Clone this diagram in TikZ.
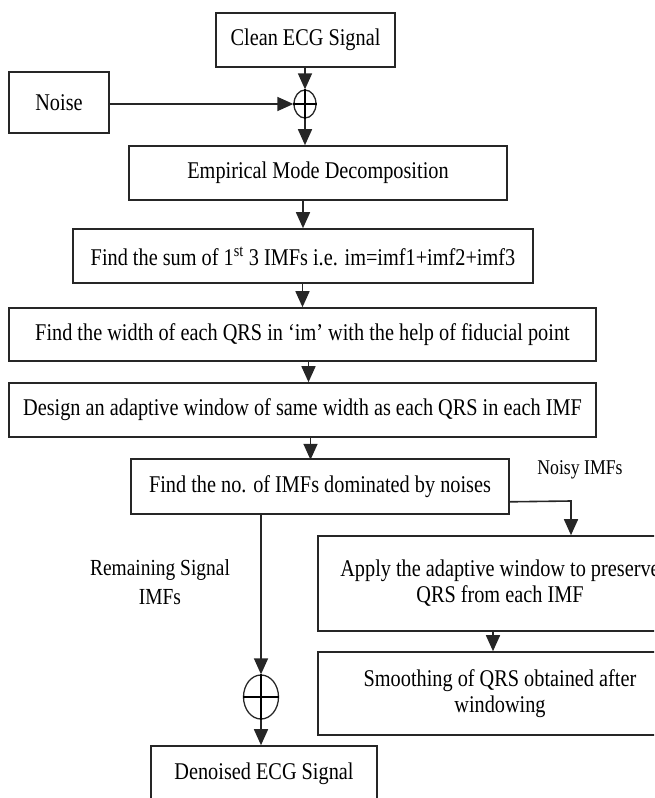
\documentclass[tikz,border=0pt]{standalone}
\usepackage{fontspec}
\setmainfont{Liberation Serif}[FakeStretch=0.845]
\usetikzlibrary{positioning}
\usetikzlibrary{shapes.geometric}
\usetikzlibrary{arrows.meta}
\usetikzlibrary{calc}
\tikzset{
  % A process step of the denoising chain
  blk/.style={draw=black!85, line width=1.6pt, fill=white, align=center,
    font=\fontsize{24}{26}\selectfont, inner sep=2pt},
  % A summing junction
  junc/.style={draw=black!85, ellipse, line width=1.3pt, inner sep=0pt},
  % Signal flow
  flow/.style={-{Triangle[length=16pt,width=14pt]}, line width=1.6pt, draw=black!85},
  lbl/.style={font=\fontsize{23}{29}\selectfont, align=center, inner sep=1pt},
}

\begin{document}
\begin{tikzpicture}[x=1pt, y=-1pt]

\useasboundingbox (0,0) rectangle (654,798);
\clip (0,0) rectangle (654,798);

\node[blk, minimum width=179pt, minimum height=54pt] (clean) at (305.5,40) {Clean ECG Signal};
\node[blk, minimum width=100pt, minimum height=61pt] (noise) at (59,102.5) {Noise};
\node[junc, minimum width=22pt, minimum height=28pt] (add) at (305,104) {};

\node[blk, minimum width=378pt, minimum height=54pt] (emd) at (318,173) {Empirical Mode Decomposition};
\node[blk, minimum width=460pt, minimum height=54pt] (sum) at (303,256)
  {Find the sum of 1\textsuperscript{st} 3 IMFs i.e. im=imf1+imf2+imf3};
\node[blk, minimum width=587pt, minimum height=53pt] (qrs) at (302.5,334.5)
  {Find the width of each QRS in ‘im’ with the help of fiducial point};
\node[blk, minimum width=587pt, minimum height=54pt] (window) at (302.5,410)
  {Design an adaptive window of same width as each QRS in each IMF};
\node[blk, minimum width=378pt, minimum height=55pt] (count) at (320,486.5)
  {Find the no. of IMFs dominated by noises};

\node[blk, minimum width=364pt, minimum height=95pt] (apply) at (500,583.5)
  {Apply the adaptive window to preserve\\QRS from each IMF};
\node[blk, minimum width=364pt, minimum height=83pt] (smooth) at (500,693.5)
  {Smoothing of QRS obtained after\\windowing};

\node[junc, minimum width=35pt, minimum height=44pt] (merge) at (261,697) {};
\node[blk, minimum width=226pt, minimum height=55pt] (out) at (264,773.5) {Denoised ECG Signal};

\node[lbl, font=\fontsize{21}{24}\selectfont] (noisy) at (580,470) {Noisy IMFs};
\node[lbl] (rest) at (160,582) {Remaining Signal\\IMFs};

% plus signs inside the junctions
\draw[line width=1.2pt] (add.north) -- (add.south) (add.west) -- (add.east);
\draw[line width=1.2pt] (merge.north) -- (merge.south) (merge.west) -- (merge.east);

\coordinate (turn) at (571,501);

\draw[flow] (add |- clean.south) -- (add.north);
\draw[flow] (noise.east |- add.west) -- (add.west);
\draw[flow] (add.south) -- (add |- emd.north);
\draw[flow] (sum.north |- emd.south) -- (sum.north);
\draw[flow] (qrs.north |- sum.south) -- (qrs.north);
\draw[flow] ($(window.north)+(6,0)$) ++(0,-22) -- ($(window.north)+(6,0)$);
\draw[flow] ($(window.south)+(8,0)$) -- ($(window.south)+(8,22)$);
\draw[flow] ($(count.south east)+(0,-13)$) -- (turn) -- (turn |- apply.north);
\draw[flow] ($(apply.south)+(-7,0)$) -- ($(smooth.north)+(-7,0)$);
\draw[flow] (count.south -| merge) -- (merge.north);
\draw[flow] (merge.south) -- (merge |- out.north);

\end{tikzpicture}
\end{document}
